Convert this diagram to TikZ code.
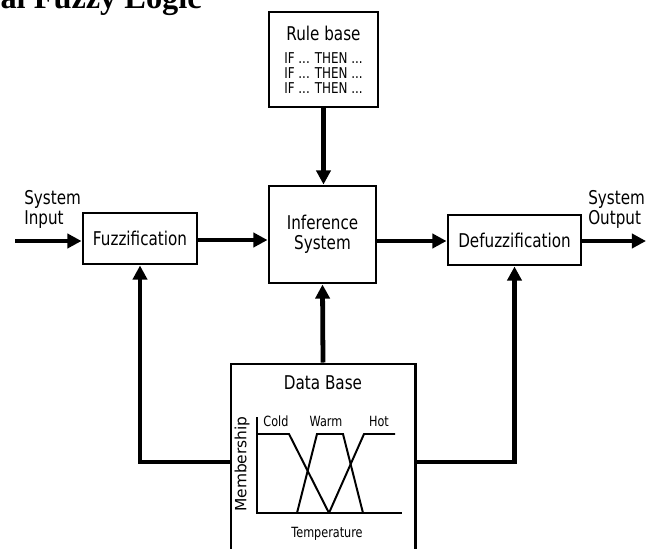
\documentclass[tikz,border=0pt]{standalone}
\usepackage{fontspec}
\setmainfont{DejaVu Sans}[FakeStretch=0.8]
\newfontfamily\plainsans{DejaVu Sans}
\newfontfamily\titlefont{Liberation Serif}
\usetikzlibrary{arrows.meta}

\tikzset{
  block/.style={draw, line width=2.1pt, fill=white, inner sep=0pt, align=center,
    font=\fontsize{13.5}{14.2}\selectfont},
  flow/.style={line width=3.4pt, -{Triangle[length=10pt,width=10pt]}},
  mf/.style={line width=1.4pt},
  lbl/.style={inner sep=0pt, font=\fontsize{10}{12}\selectfont},
  side/.style={inner sep=0pt, anchor=north west, align=left,
    font=\fontsize{13.5}{14.2}\selectfont}
}

\begin{document}
\begin{tikzpicture}[x=0.025cm,y=-0.025cm]
    \useasboundingbox (0,0) rectangle (646,548);
    \node[anchor=base east, inner sep=0pt,
      font=\titlefont\bfseries\fontsize{23}{28}\selectfont] (title) at (202,8) {al Fuzzy Logic};

    \node[block, minimum width=2.725cm, minimum height=2.375cm,
      font=\fontsize{10.6}{10.7}\selectfont] (rule) at (323.5,59.5)
      {{\fontsize{13.5}{14.2}\selectfont Rule base}\\[5.7pt]
       IF ... THEN ...\\
       IF ... THEN ...\\
       IF ... THEN ...};
    \node[block, minimum width=2.85cm, minimum height=1.275cm] (fuzz) at (140,238.5) {Fuzzification};
    \node[block, minimum width=2.675cm, minimum height=2.425cm] (infer) at (322.5,234.5) {Inference\\System};
    \node[block, minimum width=3.325cm, minimum height=1.25cm] (defuzz) at (514.5,240) {Defuzzification};
    \node[block, minimum width=4.6cm, minimum height=4.9cm] (data) at (323,462) {};

    \node[side] (sysin) at (24,190) {System\\Input};
    \node[side] (sysout) at (588,190) {System\\Output};
    \coordinate (in) at (15,241);
    \coordinate (out) at (646,241);

    \draw[flow] (in) -- (in -| fuzz.west);
    \draw[flow] (fuzz.east |- 0,240) -- (infer.west |- 0,240);
    \draw[flow] (infer.east |- 0,241) -- (defuzz.west |- 0,241);
    \draw[flow] (defuzz.east |- out) -- (out);
    \draw[flow] (rule.south) -- (rule.south |- infer.north);
    \draw[flow] (data.north) -- (infer.south);
    \draw[flow] (data.west) -| (fuzz.south);
    \draw[flow] (data.east) -| (defuzz.south);

    % data base contents
    \node[inner sep=0pt, font=\fontsize{13.5}{14.2}\selectfont] (dbtitle) at (323,383) {Data Base};
    \draw[line width=2pt] (257,417) -- (257,513) -- (402,513);
    \draw[mf] (257,434) -- (289,434) -- (329,513);
    \draw[mf] (297,513) -- (317,434) -- (343,434) -- (363,513);
    \draw[mf] (329,513) -- (364,434) -- (395,434);
    \node[lbl] (cold) at (276,421) {Cold};
    \node[lbl] (warm) at (326,421) {Warm};
    \node[lbl] (hot) at (379,421) {Hot};
    \node[lbl] (temp) at (327,534) {Temperature};
    \node[inner sep=0pt, rotate=90, font=\plainsans\fontsize{11}{13}\selectfont] (memb) at (242,464) {Membership};
\end{tikzpicture}
\end{document}
